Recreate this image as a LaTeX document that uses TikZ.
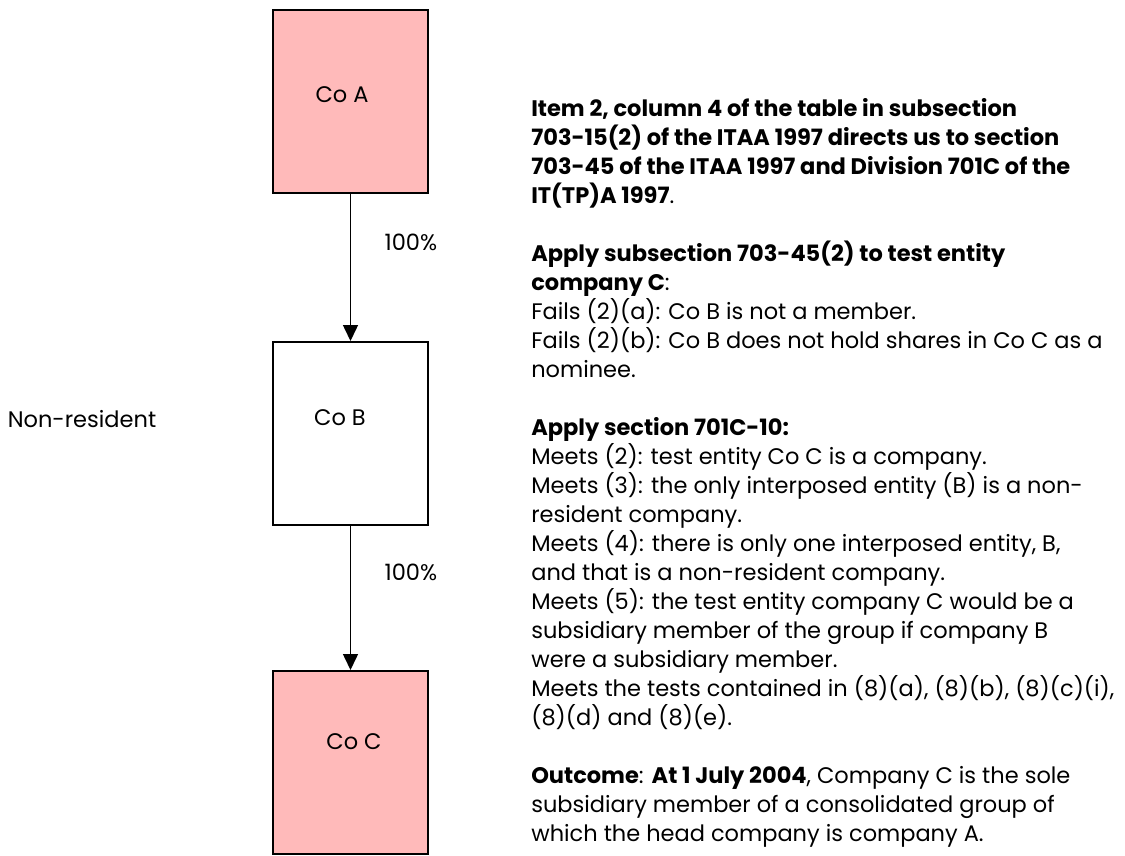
\documentclass[tikz,border=0pt]{standalone}
\usepackage{fontspec}
\setmainfont{Poppins}
\usetikzlibrary{arrows.meta,positioning}

\begin{document}
\begin{tikzpicture}[x=1pt, y=-1pt, >={Triangle[length=16pt,width=15pt]}, semithick]

    \tikzstyle{cobox} = [rectangle, minimum width=155pt, minimum height=183pt, line width=2pt, draw=black, inner sep=0pt]
    \tikzstyle{pinkbox} = [cobox, fill=cored]
    \tikzstyle{lbl} = [font=\fontsize{22.5}{27}\selectfont]
    \colorlet{cored}{red!27}

    \useasboundingbox (0,0) rectangle (1125,855);

    \node (coA) [pinkbox] at (350.5,101.5) {};
    \node (coB) [cobox, below=147pt of coA]  {};
    \node (coC) [pinkbox, below=144pt of coB] {};

    \node (txtA) [lbl] at (342,95)  {Co A};
    \node (txtB) [lbl] at (340,418) {Co B};
    \node (txtC) [lbl] at (354,742) {Co C};

    \node (nonres) [lbl] at (82,419) {Non-resident};

    \path[->, line width=1.5pt]  (coA)  edge  node[lbl, pos=0.33, right=30pt] {100\%}  (coB);
    \path[->, line width=1.5pt]  (coB)  edge  node[lbl, pos=0.32, right=30pt] {100\%}  (coC);

    \node (notes) [anchor=north west, inner sep=0pt, align=left,
                   font=\fontsize{22.5}{29}\selectfont] at (531,98) {%
        \textbf{Item 2, column 4 of the table in subsection}\\
        \textbf{703-15(2) of the ITAA 1997 directs us to section}\\
        \textbf{703-45 of the ITAA 1997 and Division 701C of the}\\
        \textbf{IT(TP)A 1997}.\\[29pt]
        \textbf{Apply subsection 703-45(2) to test entity}\\
        \textbf{company C}:\\
        Fails (2)(a): Co B is not a member.\\
        Fails (2)(b): Co B does not hold shares in Co C as a\\
        nominee.\\[29pt]
        \textbf{Apply section 701C-10:}\\
        Meets (2): test entity Co C is a company.\\
        Meets (3): the only interposed entity (B) is a non-\\
        resident company.\\
        Meets (4): there is only one interposed entity, B,\\
        and that is a non-resident company.\\
        Meets (5): the test entity company C would be a\\
        subsidiary member of the group if company B\\
        were a subsidiary member.\\
        Meets the tests contained in (8)(a), (8)(b), (8)(c)(i),\\
        (8)(d) and (8)(e).\\[29pt]
        \textbf{Outcome}: \textbf{At 1 July 2004}, Company C is the sole\\
        subsidiary member of a consolidated group of\\
        which the head company is company A.};

\end{tikzpicture}
\end{document}
